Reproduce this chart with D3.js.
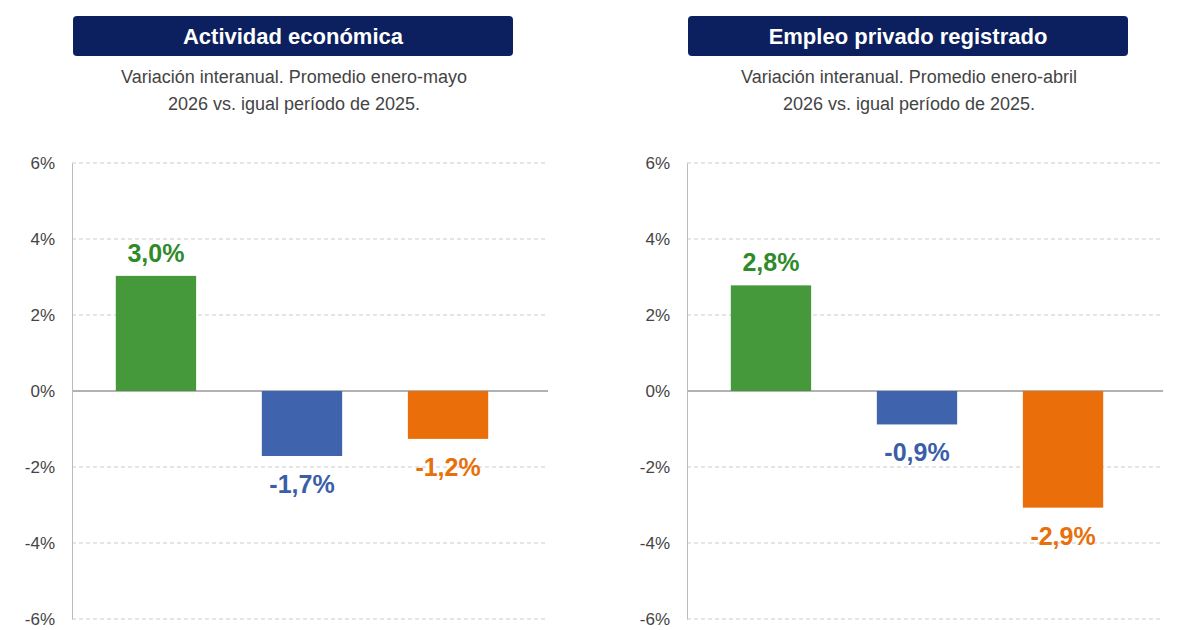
<!DOCTYPE html>
<html><head><meta charset="utf-8">
<script src="https://cdn.jsdelivr.net/npm/d3@7"></script>
<style>body{margin:0;background:#fff}svg{font-family:"Liberation Sans",Arial,sans-serif}</style>
</head><body><svg width="1200" height="630"></svg>
<script>
const categories=["Verde","Azul","Naranja"];
const titles=["Actividad económica","Empleo privado registrado"];
const subtitles=[["Variación interanual. Promedio enero-mayo","2026 vs. igual período de 2025."],["Variación interanual. Promedio enero-abril","2026 vs. igual período de 2025."]];
const valuesActividad=[3.03,-1.71,-1.26];
const valuesEmpleo=[2.78,-0.88,-3.07];
const labelsActividad=["3,0%","-1,7%","-1,2%"];
const labelsEmpleo=["2,8%","-0,9%","-2,9%"];
const tickValues=[6,4,2,0,-2,-4,-6];
const barColors=["#46993b","#3f63ad","#ea6f0a"];
const labelColors=["#2f8a2a","#3a5ea8","#e8700a"];

const svg=d3.select("svg");
const y=d3.scaleLinear().domain([-6,6]).range([619,163]);
const panels=[{x0:72,vals:valuesActividad,labs:labelsActividad,bx:73},{x0:687,vals:valuesEmpleo,labs:labelsEmpleo,bx:688}];
panels.forEach((p,i)=>{
  const g=svg.append("g");
  g.append("rect").attr("x",p.bx).attr("y",16).attr("width",440).attr("height",40).attr("rx",4).attr("fill","#0c1f5e");
  g.append("text").attr("x",p.bx+220).attr("y",44).attr("text-anchor","middle").attr("fill","#fff").attr("font-size",22).attr("font-weight","bold").text(titles[i]);
  subtitles[i].forEach((s,j)=>g.append("text").attr("x",p.bx+221).attr("y",83+j*27).attr("text-anchor","middle").attr("fill","#444").attr("font-size",18).text(s));
  const x=d3.scaleBand().domain(categories).range([p.x0,p.x0+460]).paddingInner(0.45).paddingOuter(0.3);
  tickValues.forEach(t=>{
    g.append("line").attr("x1",p.x0).attr("x2",p.x0+476).attr("y1",y(t)).attr("y2",y(t))
     .attr("stroke",t===0?"#999":"#ccc").attr("stroke-width",t===0?1.5:1).attr("stroke-dasharray",t===0?null:"4,3");
  });
  const ax=g.append("g").attr("transform",`translate(${p.x0},0)`).call(d3.axisLeft(y).tickValues(tickValues).tickSize(0).tickPadding(17).tickFormat(d=>d+"%"));
  ax.select(".domain").attr("stroke","#bbb");
  ax.selectAll("text").attr("font-size",17).attr("fill","#444").attr("font-family","Liberation Sans, Arial");
  g.selectAll(".bar").data(p.vals).join("rect")
   .attr("x",(d,k)=>x(categories[k])).attr("width",x.bandwidth())
   .attr("y",d=>y(Math.max(0,d))).attr("height",d=>Math.abs(y(d)-y(0)))
   .attr("fill",(d,k)=>barColors[k]);
  g.selectAll(".lab").data(p.vals).join("text")
   .attr("x",(d,k)=>x(categories[k])+x.bandwidth()/2)
   .attr("y",d=>d>=0?y(d)-14:y(d)+37)
   .attr("text-anchor","middle").attr("font-size",25).attr("font-weight","bold")
   .attr("fill",(d,k)=>labelColors[k]).text((d,k)=>p.labs[k]);
});
</script></body></html>
